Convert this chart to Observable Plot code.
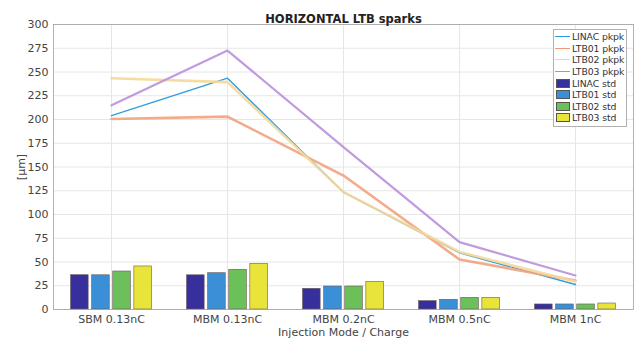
<!DOCTYPE html>
<html>
<head>
<meta charset="utf-8">
<script src="https://cdn.jsdelivr.net/npm/d3@7"></script>
<script src="https://cdn.jsdelivr.net/npm/@observablehq/plot@0.6"></script>
<style>
  html, body { margin: 0; padding: 0; background: #fff; overflow: hidden; }
  #wrap { position: relative; width: 634px; height: 339px; font-family: "DejaVu Sans", sans-serif; }
  #legend { position: absolute; left: 553px; top: 29px; box-sizing: border-box; padding: 1px 2px 2px 0; border: 1px solid #b0b0b0; background: #fff; font-size: 9.3px; color: #333; white-space: nowrap; }
  .row { display: flex; align-items: center; height: 11.6px; white-space: nowrap; }
  .sw { flex: 0 0 15px; margin-left: 1px; margin-right: 2px; display: flex; align-items: center; justify-content: center; }
  .ln { width: 15px; height: 0; border-top: 1.6px solid; }
  .bx { width: 14px; height: 9px; border: 0.5px solid #555; box-sizing: border-box; }
  .tx { letter-spacing: -0.1px; }
</style>
</head>
<body>
<div id="wrap"></div>
<script>
const title = "HORIZONTAL LTB sparks";
const xLabel = "Injection Mode / Charge";
const yLabel = "[μm]";
const categories = ["SBM 0.13nC", "MBM 0.13nC", "MBM 0.2nC", "MBM 0.5nC", "MBM 1nC"];
const yTicks = [0, 25, 50, 75, 100, 125, 150, 175, 200, 225, 250, 275, 300];

const pkpkNames = ["LINAC pkpk", "LTB01 pkpk", "LTB02 pkpk", "LTB03 pkpk"];
const linacPkpk = [204, 243.5, 123.5, 59.6, 26.3];
const ltb01Pkpk = [200.5, 203, 141, 52.6, 30.5];
const ltb02Pkpk = [243.5, 239.3, 123.5, 60.5, 29.5];
const ltb03Pkpk = [215, 272.6, 171, 70.9, 35.8];

const stdNames = ["LINAC std", "LTB01 std", "LTB02 std", "LTB03 std"];
const linacStd = [36.1, 36, 21.8, 8.8, 5.3];
const ltb01Std = [36, 38.2, 24.2, 10.2, 5.3];
const ltb02Std = [40, 41.8, 24.2, 12.3, 5.3];
const ltb03Std = [45.3, 48.1, 29.1, 12.3, 6.3];

// styles
const lineColors = ["#2f9de0", "#f2a27e", "#f5d89a", "#b990dc"];
const lineWidths = [1.4, 2.6, 2.6, 2.2];
const lineOpacity = [1, 0.9, 0.9, 0.9];
const legendLineColors = ["#2f9de0", "#f39a6c", "#f7d690", "#d07ad8"];
const barColors = ["#37309c", "#3a8fd6", "#6cc05a", "#e9e43a"];
const barStep = 0.182, barWidth = 0.152;

const pkpkVals = [linacPkpk, ltb01Pkpk, ltb02Pkpk, ltb03Pkpk];
const stdVals = [linacStd, ltb01Std, ltb02Std, ltb03Std];

const lineData = pkpkNames.flatMap((s, j) => categories.map((c, i) => ({series: s, j, pos: i + 1, value: pkpkVals[j][i]})));
const barData = stdNames.flatMap((s, j) => categories.map((c, i) => ({series: s, j, pos: i + 1, value: stdVals[j][i]})));

const marks = [
  Plot.gridY(yTicks, {stroke: "#e6e6e6", strokeOpacity: 1}),
  Plot.gridX([1, 2, 3, 4, 5], {stroke: "#e6e6e6", strokeOpacity: 1}),
  Plot.rectY(barData, {
    x1: d => d.pos + (d.j - 1.5) * barStep - barWidth / 2,
    x2: d => d.pos + (d.j - 1.5) * barStep + barWidth / 2,
    y1: 0, y2: "value",
    fill: d => barColors[d.j],
    stroke: "#6a5a5a", strokeWidth: 0.6
  }),
  ...pkpkNames.map((s, j) => Plot.lineY(lineData.filter(d => d.j === j), {
    x: "pos", y: "value", stroke: lineColors[j], strokeWidth: lineWidths[j], strokeOpacity: lineOpacity[j]
  })),
  Plot.frame({stroke: "#a0a0a0", strokeWidth: 0.8}),
  Plot.axisY({ticks: yTicks, tickSize: 0, tickPadding: 5, fontSize: 11, label: yLabel, labelAnchor: "center", labelArrow: "none", labelOffset: 36}),
  Plot.axisX({ticks: [1, 2, 3, 4, 5], tickFormat: i => categories[i - 1], tickSize: 0, tickPadding: 6, fontSize: 11, label: xLabel, labelAnchor: "center", labelArrow: "none", labelOffset: 26}),
  Plot.text([title], {frameAnchor: "top", dy: -10, text: d => d, fontWeight: "bold", fontSize: 11.5, fill: "#222"})
];

const chart = Plot.plot({
  width: 634,
  height: 339,
  marginLeft: 53,
  marginRight: 1,
  marginTop: 24,
  marginBottom: 30,
  style: {fontFamily: "DejaVu Sans, sans-serif", color: "#444", background: "#fff", overflow: "visible"},
  x: {domain: [0.5, 5.5]},
  y: {domain: [0, 300]},
  marks
});

const wrap = document.getElementById("wrap");
wrap.appendChild(chart);

const legend = document.createElement("div");
legend.id = "legend";
pkpkNames.forEach((n, j) => {
  const r = document.createElement("div"); r.className = "row";
  r.innerHTML = `<span class="sw"><span class="ln" style="border-color:${legendLineColors[j]}"></span></span><span class="tx"></span>`;
  r.lastChild.textContent = n;
  legend.appendChild(r);
});
stdNames.forEach((n, j) => {
  const r = document.createElement("div"); r.className = "row";
  r.innerHTML = `<span class="sw"><span class="bx" style="background:${barColors[j]}"></span></span><span class="tx"></span>`;
  r.lastChild.textContent = n;
  legend.appendChild(r);
});
wrap.appendChild(legend);
</script>
</body>
</html>
